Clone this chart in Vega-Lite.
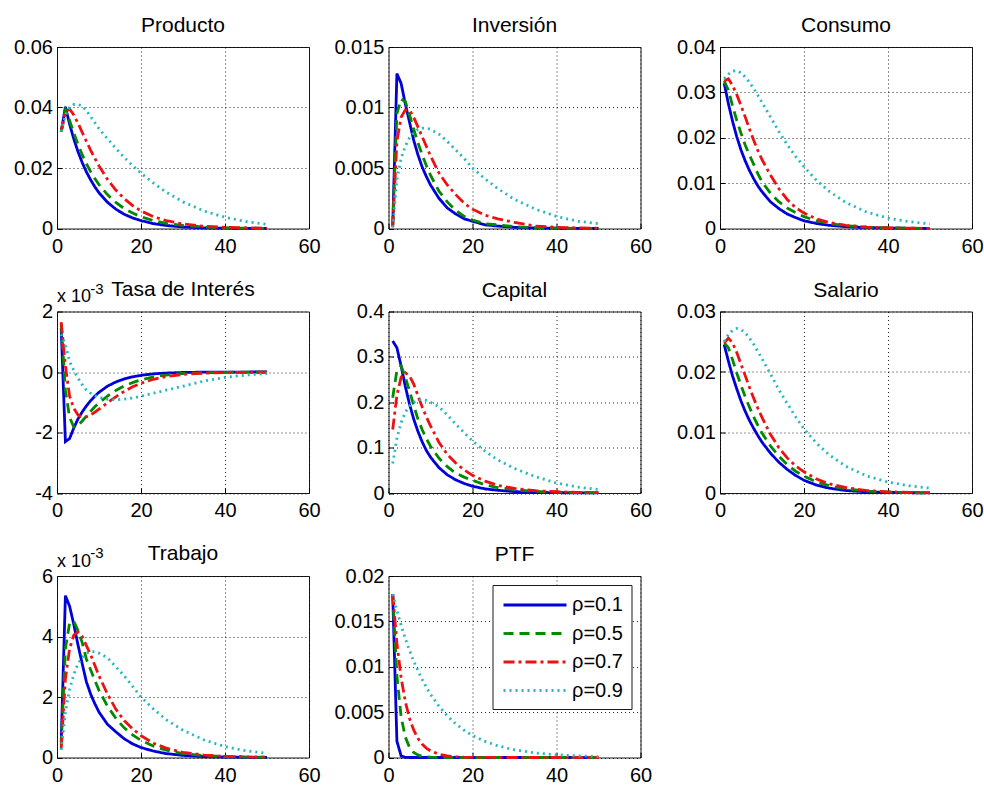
{
  "$schema": "https://vega.github.io/schema/vega-lite/v6.json",
  "background": "white",
  "padding": {"left": 13, "top": 14, "right": 4, "bottom": 0},
  "bounds": "flush",
  "columns": 3,
  "spacing": {"row": 82.5, "column": 79.5},
  "config": {
    "font": "Liberation Sans",
    "view": {"stroke": "#1a1a1a", "strokeWidth": 1},
    "axis": {
      "grid": true, "gridColor": "#000", "gridDash": [1, 3], "gridWidth": 1, "gridOpacity": 0.85,
      "domain": false, "ticks": true, "tickSize": -5, "tickColor": "#000",
      "labelFont": "Liberation Sans", "labelFontSize": 20, "labelColor": "#000",
      "labelFlush": false, "labelOverlap": false
    },
    "axisX": {"labelPadding": 12.5},
    "axisY": {"labelPadding": 9.5},
    "title": {"font": "Liberation Sans", "fontSize": 21, "fontWeight": "normal", "color": "#000", "anchor": "middle", "frame": "group", "baseline": "alphabetic", "offset": 1},
    "line": {"strokeWidth": 2.8, "strokeCap": "butt"}
  },
  "resolve": {
    "scale": {"color": "independent", "strokeDash": "independent"},
    "legend": {"color": "independent", "strokeDash": "independent"}
  },
  "datasets": {
    "producto": [
      {"r":0.1,"t":1,"v":0.032},{"r":0.1,"t":2,"v":0.0402},{"r":0.1,"t":3,"v":0.0345},{"r":0.1,"t":4,"v":0.0296},{"r":0.1,"t":5,"v":0.0254},{"r":0.1,"t":6,"v":0.0218},{"r":0.1,"t":7,"v":0.0187},{"r":0.1,"t":8,"v":0.0161},{"r":0.1,"t":9,"v":0.0138},{"r":0.1,"t":10,"v":0.0118},{"r":0.1,"t":12,"v":0.0087},{"r":0.1,"t":14,"v":0.0064},{"r":0.1,"t":16,"v":0.0047},{"r":0.1,"t":18,"v":0.0035},{"r":0.1,"t":20,"v":0.0026},{"r":0.1,"t":23,"v":0.0016},{"r":0.1,"t":26,"v":0.001},{"r":0.1,"t":30,"v":0.0005},{"r":0.1,"t":35,"v":0.0002},{"r":0.1,"t":40,"v":0.0001},{"r":0.1,"t":45,"v":0.00005},{"r":0.1,"t":50,"v":0.00002},
      {"r":0.5,"t":1,"v":0.032},{"r":0.5,"t":2,"v":0.0392},{"r":0.5,"t":3,"v":0.0357},{"r":0.5,"t":4,"v":0.0316},{"r":0.5,"t":5,"v":0.0278},{"r":0.5,"t":6,"v":0.0244},{"r":0.5,"t":7,"v":0.0214},{"r":0.5,"t":8,"v":0.0188},{"r":0.5,"t":9,"v":0.0165},{"r":0.5,"t":10,"v":0.0145},{"r":0.5,"t":12,"v":0.0112},{"r":0.5,"t":14,"v":0.0086},{"r":0.5,"t":16,"v":0.0066},{"r":0.5,"t":18,"v":0.0051},{"r":0.5,"t":20,"v":0.0039},{"r":0.5,"t":23,"v":0.0026},{"r":0.5,"t":26,"v":0.0017},{"r":0.5,"t":30,"v":0.001},{"r":0.5,"t":35,"v":0.0005},{"r":0.5,"t":40,"v":0.0002},{"r":0.5,"t":45,"v":0.0001},{"r":0.5,"t":50,"v":0.00005},
      {"r":0.7,"t":1,"v":0.032},{"r":0.7,"t":2,"v":0.0385},{"r":0.7,"t":3,"v":0.0395},{"r":0.7,"t":4,"v":0.0375},{"r":0.7,"t":5,"v":0.0348},{"r":0.7,"t":6,"v":0.0318},{"r":0.7,"t":7,"v":0.0288},{"r":0.7,"t":8,"v":0.0259},{"r":0.7,"t":9,"v":0.0232},{"r":0.7,"t":10,"v":0.0207},{"r":0.7,"t":12,"v":0.0163},{"r":0.7,"t":14,"v":0.0127},{"r":0.7,"t":16,"v":0.0099},{"r":0.7,"t":18,"v":0.0076},{"r":0.7,"t":20,"v":0.0058},{"r":0.7,"t":23,"v":0.0039},{"r":0.7,"t":26,"v":0.0026},{"r":0.7,"t":30,"v":0.0015},{"r":0.7,"t":35,"v":0.0007},{"r":0.7,"t":40,"v":0.0004},{"r":0.7,"t":45,"v":0.0002},{"r":0.7,"t":50,"v":0.0001},
      {"r":0.9,"t":1,"v":0.032},{"r":0.9,"t":2,"v":0.0375},{"r":0.9,"t":3,"v":0.04},{"r":0.9,"t":4,"v":0.041},{"r":0.9,"t":5,"v":0.041},{"r":0.9,"t":6,"v":0.0405},{"r":0.9,"t":7,"v":0.039},{"r":0.9,"t":8,"v":0.037},{"r":0.9,"t":9,"v":0.035},{"r":0.9,"t":10,"v":0.033},{"r":0.9,"t":12,"v":0.0297},{"r":0.9,"t":14,"v":0.0265},{"r":0.9,"t":16,"v":0.0235},{"r":0.9,"t":18,"v":0.0208},{"r":0.9,"t":20,"v":0.0183},{"r":0.9,"t":23,"v":0.015},{"r":0.9,"t":26,"v":0.012},{"r":0.9,"t":30,"v":0.0088},{"r":0.9,"t":35,"v":0.0058},{"r":0.9,"t":40,"v":0.0037},{"r":0.9,"t":45,"v":0.0023},{"r":0.9,"t":50,"v":0.0014}
    ],
    "inversion": [
      {"r":0.1,"t":1,"v":0.0002},{"r":0.1,"t":2,"v":0.0128},{"r":0.1,"t":3,"v":0.012},{"r":0.1,"t":4,"v":0.0103},{"r":0.1,"t":5,"v":0.0088},{"r":0.1,"t":6,"v":0.0073},{"r":0.1,"t":7,"v":0.0061},{"r":0.1,"t":8,"v":0.0051},{"r":0.1,"t":9,"v":0.0043},{"r":0.1,"t":10,"v":0.0036},{"r":0.1,"t":12,"v":0.0025},{"r":0.1,"t":14,"v":0.0017},{"r":0.1,"t":16,"v":0.0012},{"r":0.1,"t":18,"v":0.0008},{"r":0.1,"t":20,"v":0.0006},{"r":0.1,"t":23,"v":0.0003},{"r":0.1,"t":26,"v":0.0002},{"r":0.1,"t":30,"v":0.0001},{"r":0.1,"t":35,"v":0.00004},{"r":0.1,"t":40,"v":0.00002},{"r":0.1,"t":45,"v":0.00001},{"r":0.1,"t":50,"v":0},
      {"r":0.5,"t":1,"v":0.0002},{"r":0.5,"t":2,"v":0.0095},{"r":0.5,"t":3,"v":0.0107},{"r":0.5,"t":4,"v":0.0105},{"r":0.5,"t":5,"v":0.0094},{"r":0.5,"t":6,"v":0.0082},{"r":0.5,"t":7,"v":0.0071},{"r":0.5,"t":8,"v":0.0061},{"r":0.5,"t":9,"v":0.0052},{"r":0.5,"t":10,"v":0.0044},{"r":0.5,"t":12,"v":0.0031},{"r":0.5,"t":14,"v":0.0022},{"r":0.5,"t":16,"v":0.0015},{"r":0.5,"t":18,"v":0.001},{"r":0.5,"t":20,"v":0.0007},{"r":0.5,"t":23,"v":0.0004},{"r":0.5,"t":26,"v":0.0003},{"r":0.5,"t":30,"v":0.00015},{"r":0.5,"t":35,"v":0.00007},{"r":0.5,"t":40,"v":0.00003},{"r":0.5,"t":45,"v":0.00001},{"r":0.5,"t":50,"v":0},
      {"r":0.7,"t":1,"v":0.0001},{"r":0.7,"t":2,"v":0.0072},{"r":0.7,"t":3,"v":0.0092},{"r":0.7,"t":4,"v":0.0098},{"r":0.7,"t":5,"v":0.0098},{"r":0.7,"t":6,"v":0.0092},{"r":0.7,"t":7,"v":0.0084},{"r":0.7,"t":8,"v":0.0076},{"r":0.7,"t":9,"v":0.0068},{"r":0.7,"t":10,"v":0.006},{"r":0.7,"t":12,"v":0.0046},{"r":0.7,"t":14,"v":0.0036},{"r":0.7,"t":16,"v":0.0028},{"r":0.7,"t":18,"v":0.0021},{"r":0.7,"t":20,"v":0.0016},{"r":0.7,"t":23,"v":0.0011},{"r":0.7,"t":26,"v":0.0008},{"r":0.7,"t":30,"v":0.0005},{"r":0.7,"t":35,"v":0.0002},{"r":0.7,"t":40,"v":0.0001},{"r":0.7,"t":45,"v":0.00005},{"r":0.7,"t":50,"v":0.00002},
      {"r":0.9,"t":1,"v":0.0001},{"r":0.9,"t":2,"v":0.004},{"r":0.9,"t":3,"v":0.0058},{"r":0.9,"t":4,"v":0.0068},{"r":0.9,"t":5,"v":0.0075},{"r":0.9,"t":6,"v":0.0079},{"r":0.9,"t":7,"v":0.0082},{"r":0.9,"t":8,"v":0.0083},{"r":0.9,"t":9,"v":0.0083},{"r":0.9,"t":10,"v":0.0082},{"r":0.9,"t":12,"v":0.0078},{"r":0.9,"t":14,"v":0.0072},{"r":0.9,"t":16,"v":0.0065},{"r":0.9,"t":18,"v":0.0058},{"r":0.9,"t":20,"v":0.005},{"r":0.9,"t":23,"v":0.0041},{"r":0.9,"t":26,"v":0.0033},{"r":0.9,"t":30,"v":0.0024},{"r":0.9,"t":35,"v":0.0016},{"r":0.9,"t":40,"v":0.001},{"r":0.9,"t":45,"v":0.0006},{"r":0.9,"t":50,"v":0.0004}
    ],
    "consumo": [
      {"r":0.1,"t":1,"v":0.032},{"r":0.1,"t":2,"v":0.0275},{"r":0.1,"t":3,"v":0.0236},{"r":0.1,"t":4,"v":0.0202},{"r":0.1,"t":5,"v":0.0173},{"r":0.1,"t":6,"v":0.0149},{"r":0.1,"t":7,"v":0.0128},{"r":0.1,"t":8,"v":0.011},{"r":0.1,"t":9,"v":0.0094},{"r":0.1,"t":10,"v":0.0081},{"r":0.1,"t":12,"v":0.0059},{"r":0.1,"t":14,"v":0.0044},{"r":0.1,"t":16,"v":0.0032},{"r":0.1,"t":18,"v":0.0024},{"r":0.1,"t":20,"v":0.0017},{"r":0.1,"t":23,"v":0.0011},{"r":0.1,"t":26,"v":0.0007},{"r":0.1,"t":30,"v":0.0004},{"r":0.1,"t":35,"v":0.0002},{"r":0.1,"t":40,"v":0.0001},{"r":0.1,"t":45,"v":0.00004},{"r":0.1,"t":50,"v":0.00002},
      {"r":0.5,"t":1,"v":0.0325},{"r":0.5,"t":2,"v":0.0305},{"r":0.5,"t":3,"v":0.027},{"r":0.5,"t":4,"v":0.0238},{"r":0.5,"t":5,"v":0.021},{"r":0.5,"t":6,"v":0.0184},{"r":0.5,"t":7,"v":0.0162},{"r":0.5,"t":8,"v":0.0142},{"r":0.5,"t":9,"v":0.0121},{"r":0.5,"t":10,"v":0.0103},{"r":0.5,"t":12,"v":0.0078},{"r":0.5,"t":14,"v":0.0059},{"r":0.5,"t":16,"v":0.0045},{"r":0.5,"t":18,"v":0.0035},{"r":0.5,"t":20,"v":0.0026},{"r":0.5,"t":23,"v":0.0017},{"r":0.5,"t":26,"v":0.0011},{"r":0.5,"t":30,"v":0.0006},{"r":0.5,"t":35,"v":0.0003},{"r":0.5,"t":40,"v":0.00015},{"r":0.5,"t":45,"v":0.00007},{"r":0.5,"t":50,"v":0.00003},
      {"r":0.7,"t":1,"v":0.0325},{"r":0.7,"t":2,"v":0.033},{"r":0.7,"t":3,"v":0.0315},{"r":0.7,"t":4,"v":0.0295},{"r":0.7,"t":5,"v":0.0271},{"r":0.7,"t":6,"v":0.0246},{"r":0.7,"t":7,"v":0.022},{"r":0.7,"t":8,"v":0.0195},{"r":0.7,"t":9,"v":0.0172},{"r":0.7,"t":10,"v":0.0152},{"r":0.7,"t":12,"v":0.0118},{"r":0.7,"t":14,"v":0.0088},{"r":0.7,"t":16,"v":0.0064},{"r":0.7,"t":18,"v":0.0046},{"r":0.7,"t":20,"v":0.0034},{"r":0.7,"t":23,"v":0.0021},{"r":0.7,"t":26,"v":0.0013},{"r":0.7,"t":30,"v":0.0007},{"r":0.7,"t":35,"v":0.0003},{"r":0.7,"t":40,"v":0.00015},{"r":0.7,"t":45,"v":0.00007},{"r":0.7,"t":50,"v":0.00003},
      {"r":0.9,"t":1,"v":0.033},{"r":0.9,"t":2,"v":0.034},{"r":0.9,"t":3,"v":0.0347},{"r":0.9,"t":4,"v":0.0348},{"r":0.9,"t":5,"v":0.0343},{"r":0.9,"t":6,"v":0.0334},{"r":0.9,"t":7,"v":0.0322},{"r":0.9,"t":8,"v":0.0309},{"r":0.9,"t":9,"v":0.0294},{"r":0.9,"t":10,"v":0.0278},{"r":0.9,"t":12,"v":0.0246},{"r":0.9,"t":14,"v":0.0214},{"r":0.9,"t":16,"v":0.0185},{"r":0.9,"t":18,"v":0.0159},{"r":0.9,"t":20,"v":0.0136},{"r":0.9,"t":23,"v":0.0106},{"r":0.9,"t":26,"v":0.0082},{"r":0.9,"t":30,"v":0.0057},{"r":0.9,"t":35,"v":0.0036},{"r":0.9,"t":40,"v":0.0023},{"r":0.9,"t":45,"v":0.0015},{"r":0.9,"t":50,"v":0.001}
    ],
    "tasa": [
      {"r":0.1,"t":1,"v":0.00145},{"r":0.1,"t":2,"v":-0.0023},{"r":0.1,"t":3,"v":-0.0022},{"r":0.1,"t":4,"v":-0.00185},{"r":0.1,"t":5,"v":-0.00155},{"r":0.1,"t":6,"v":-0.00132},{"r":0.1,"t":7,"v":-0.00112},{"r":0.1,"t":8,"v":-0.00095},{"r":0.1,"t":9,"v":-0.0008},{"r":0.1,"t":10,"v":-0.00067},{"r":0.1,"t":12,"v":-0.00047},{"r":0.1,"t":14,"v":-0.00033},{"r":0.1,"t":16,"v":-0.00023},{"r":0.1,"t":18,"v":-0.00016},{"r":0.1,"t":20,"v":-0.00011},{"r":0.1,"t":23,"v":-0.00006},{"r":0.1,"t":26,"v":-0.000035},{"r":0.1,"t":30,"v":-0.000015},{"r":0.1,"t":35,"v":-0.000005},{"r":0.1,"t":40,"v":-0.000002},{"r":0.1,"t":45,"v":-0.000001},{"r":0.1,"t":50,"v":0},
      {"r":0.5,"t":1,"v":0.0016},{"r":0.5,"t":2,"v":-0.0006},{"r":0.5,"t":3,"v":-0.0015},{"r":0.5,"t":4,"v":-0.00182},{"r":0.5,"t":5,"v":-0.00178},{"r":0.5,"t":6,"v":-0.00162},{"r":0.5,"t":7,"v":-0.00146},{"r":0.5,"t":8,"v":-0.0013},{"r":0.5,"t":9,"v":-0.00115},{"r":0.5,"t":10,"v":-0.00102},{"r":0.5,"t":12,"v":-0.0008},{"r":0.5,"t":14,"v":-0.00061},{"r":0.5,"t":16,"v":-0.00046},{"r":0.5,"t":18,"v":-0.00035},{"r":0.5,"t":20,"v":-0.00026},{"r":0.5,"t":23,"v":-0.00016},{"r":0.5,"t":26,"v":-0.0001},{"r":0.5,"t":30,"v":-0.00005},{"r":0.5,"t":35,"v":-0.00002},{"r":0.5,"t":40,"v":-0.00001},{"r":0.5,"t":45,"v":-0.000005},{"r":0.5,"t":50,"v":-0.000002},
      {"r":0.7,"t":1,"v":0.00165},{"r":0.7,"t":2,"v":0.0002},{"r":0.7,"t":3,"v":-0.0008},{"r":0.7,"t":4,"v":-0.0012},{"r":0.7,"t":5,"v":-0.00142},{"r":0.7,"t":6,"v":-0.0015},{"r":0.7,"t":7,"v":-0.00148},{"r":0.7,"t":8,"v":-0.00142},{"r":0.7,"t":9,"v":-0.00133},{"r":0.7,"t":10,"v":-0.00123},{"r":0.7,"t":12,"v":-0.00102},{"r":0.7,"t":14,"v":-0.00082},{"r":0.7,"t":16,"v":-0.00064},{"r":0.7,"t":18,"v":-0.00049},{"r":0.7,"t":20,"v":-0.00037},{"r":0.7,"t":23,"v":-0.00024},{"r":0.7,"t":26,"v":-0.00015},{"r":0.7,"t":30,"v":-0.00008},{"r":0.7,"t":35,"v":-0.00004},{"r":0.7,"t":40,"v":-0.00002},{"r":0.7,"t":45,"v":-0.00001},{"r":0.7,"t":50,"v":-0.000005},
      {"r":0.9,"t":1,"v":0.00125},{"r":0.9,"t":2,"v":0.0009},{"r":0.9,"t":3,"v":0.00035},{"r":0.9,"t":4,"v":0.00005},{"r":0.9,"t":5,"v":-0.0002},{"r":0.9,"t":6,"v":-0.00042},{"r":0.9,"t":7,"v":-0.0006},{"r":0.9,"t":8,"v":-0.0007},{"r":0.9,"t":9,"v":-0.00078},{"r":0.9,"t":10,"v":-0.00084},{"r":0.9,"t":12,"v":-0.0009},{"r":0.9,"t":14,"v":-0.00092},{"r":0.9,"t":16,"v":-0.0009},{"r":0.9,"t":18,"v":-0.00086},{"r":0.9,"t":20,"v":-0.0008},{"r":0.9,"t":23,"v":-0.0007},{"r":0.9,"t":26,"v":-0.0006},{"r":0.9,"t":30,"v":-0.00047},{"r":0.9,"t":35,"v":-0.0003},{"r":0.9,"t":40,"v":-0.00018},{"r":0.9,"t":45,"v":-0.0001},{"r":0.9,"t":50,"v":-0.00005}
    ],
    "capital": [
      {"r":0.1,"t":1,"v":0.335},{"r":0.1,"t":2,"v":0.32},{"r":0.1,"t":3,"v":0.28},{"r":0.1,"t":4,"v":0.235},{"r":0.1,"t":5,"v":0.196},{"r":0.1,"t":6,"v":0.163},{"r":0.1,"t":7,"v":0.136},{"r":0.1,"t":8,"v":0.113},{"r":0.1,"t":9,"v":0.094},{"r":0.1,"t":10,"v":0.079},{"r":0.1,"t":12,"v":0.056},{"r":0.1,"t":14,"v":0.04},{"r":0.1,"t":16,"v":0.029},{"r":0.1,"t":18,"v":0.021},{"r":0.1,"t":20,"v":0.015},{"r":0.1,"t":23,"v":0.009},{"r":0.1,"t":26,"v":0.006},{"r":0.1,"t":30,"v":0.003},{"r":0.1,"t":35,"v":0.0015},{"r":0.1,"t":40,"v":0.0007},{"r":0.1,"t":45,"v":0.0003},{"r":0.1,"t":50,"v":0.0002},
      {"r":0.5,"t":1,"v":0.21},{"r":0.5,"t":2,"v":0.27},{"r":0.5,"t":3,"v":0.28},{"r":0.5,"t":4,"v":0.255},{"r":0.5,"t":5,"v":0.225},{"r":0.5,"t":6,"v":0.193},{"r":0.5,"t":7,"v":0.163},{"r":0.5,"t":8,"v":0.14},{"r":0.5,"t":9,"v":0.12},{"r":0.5,"t":10,"v":0.103},{"r":0.5,"t":12,"v":0.077},{"r":0.5,"t":14,"v":0.058},{"r":0.5,"t":16,"v":0.044},{"r":0.5,"t":18,"v":0.035},{"r":0.5,"t":20,"v":0.028},{"r":0.5,"t":23,"v":0.018},{"r":0.5,"t":26,"v":0.012},{"r":0.5,"t":30,"v":0.007},{"r":0.5,"t":35,"v":0.0035},{"r":0.5,"t":40,"v":0.0018},{"r":0.5,"t":45,"v":0.0009},{"r":0.5,"t":50,"v":0.0005},
      {"r":0.7,"t":1,"v":0.14},{"r":0.7,"t":2,"v":0.215},{"r":0.7,"t":3,"v":0.255},{"r":0.7,"t":4,"v":0.265},{"r":0.7,"t":5,"v":0.258},{"r":0.7,"t":6,"v":0.24},{"r":0.7,"t":7,"v":0.215},{"r":0.7,"t":8,"v":0.19},{"r":0.7,"t":9,"v":0.168},{"r":0.7,"t":10,"v":0.148},{"r":0.7,"t":12,"v":0.112},{"r":0.7,"t":14,"v":0.085},{"r":0.7,"t":16,"v":0.066},{"r":0.7,"t":18,"v":0.051},{"r":0.7,"t":20,"v":0.039},{"r":0.7,"t":23,"v":0.026},{"r":0.7,"t":26,"v":0.017},{"r":0.7,"t":30,"v":0.01},{"r":0.7,"t":35,"v":0.005},{"r":0.7,"t":40,"v":0.0028},{"r":0.7,"t":45,"v":0.0015},{"r":0.7,"t":50,"v":0.0008},
      {"r":0.9,"t":1,"v":0.065},{"r":0.9,"t":2,"v":0.12},{"r":0.9,"t":3,"v":0.155},{"r":0.9,"t":4,"v":0.178},{"r":0.9,"t":5,"v":0.192},{"r":0.9,"t":6,"v":0.2},{"r":0.9,"t":7,"v":0.205},{"r":0.9,"t":8,"v":0.206},{"r":0.9,"t":9,"v":0.204},{"r":0.9,"t":10,"v":0.2},{"r":0.9,"t":12,"v":0.19},{"r":0.9,"t":14,"v":0.172},{"r":0.9,"t":16,"v":0.152},{"r":0.9,"t":18,"v":0.133},{"r":0.9,"t":20,"v":0.115},{"r":0.9,"t":23,"v":0.092},{"r":0.9,"t":26,"v":0.073},{"r":0.9,"t":30,"v":0.054},{"r":0.9,"t":35,"v":0.036},{"r":0.9,"t":40,"v":0.022},{"r":0.9,"t":45,"v":0.013},{"r":0.9,"t":50,"v":0.008}
    ],
    "salario": [
      {"r":0.1,"t":1,"v":0.0245},{"r":0.1,"t":2,"v":0.0218},{"r":0.1,"t":3,"v":0.0193},{"r":0.1,"t":4,"v":0.0172},{"r":0.1,"t":5,"v":0.0152},{"r":0.1,"t":6,"v":0.0135},{"r":0.1,"t":7,"v":0.012},{"r":0.1,"t":8,"v":0.0107},{"r":0.1,"t":9,"v":0.0095},{"r":0.1,"t":10,"v":0.0084},{"r":0.1,"t":12,"v":0.0066},{"r":0.1,"t":14,"v":0.0051},{"r":0.1,"t":16,"v":0.0039},{"r":0.1,"t":18,"v":0.0029},{"r":0.1,"t":20,"v":0.0021},{"r":0.1,"t":23,"v":0.0013},{"r":0.1,"t":26,"v":0.0008},{"r":0.1,"t":30,"v":0.0004},{"r":0.1,"t":35,"v":0.0002},{"r":0.1,"t":40,"v":0.0001},{"r":0.1,"t":45,"v":0.00005},{"r":0.1,"t":50,"v":0.00002},
      {"r":0.5,"t":1,"v":0.0248},{"r":0.5,"t":2,"v":0.024},{"r":0.5,"t":3,"v":0.022},{"r":0.5,"t":4,"v":0.0198},{"r":0.5,"t":5,"v":0.0178},{"r":0.5,"t":6,"v":0.0159},{"r":0.5,"t":7,"v":0.0142},{"r":0.5,"t":8,"v":0.0126},{"r":0.5,"t":9,"v":0.0112},{"r":0.5,"t":10,"v":0.0099},{"r":0.5,"t":12,"v":0.0078},{"r":0.5,"t":14,"v":0.0061},{"r":0.5,"t":16,"v":0.0047},{"r":0.5,"t":18,"v":0.0036},{"r":0.5,"t":20,"v":0.0028},{"r":0.5,"t":23,"v":0.0018},{"r":0.5,"t":26,"v":0.0012},{"r":0.5,"t":30,"v":0.0007},{"r":0.5,"t":35,"v":0.0003},{"r":0.5,"t":40,"v":0.00015},{"r":0.5,"t":45,"v":0.00007},{"r":0.5,"t":50,"v":0.00003},
      {"r":0.7,"t":1,"v":0.0248},{"r":0.7,"t":2,"v":0.0256},{"r":0.7,"t":3,"v":0.0248},{"r":0.7,"t":4,"v":0.0232},{"r":0.7,"t":5,"v":0.0213},{"r":0.7,"t":6,"v":0.0194},{"r":0.7,"t":7,"v":0.0175},{"r":0.7,"t":8,"v":0.0157},{"r":0.7,"t":9,"v":0.014},{"r":0.7,"t":10,"v":0.0125},{"r":0.7,"t":12,"v":0.0097},{"r":0.7,"t":14,"v":0.0075},{"r":0.7,"t":16,"v":0.0058},{"r":0.7,"t":18,"v":0.0045},{"r":0.7,"t":20,"v":0.0035},{"r":0.7,"t":23,"v":0.0023},{"r":0.7,"t":26,"v":0.0015},{"r":0.7,"t":30,"v":0.0009},{"r":0.7,"t":35,"v":0.0004},{"r":0.7,"t":40,"v":0.0002},{"r":0.7,"t":45,"v":0.0001},{"r":0.7,"t":50,"v":0.00005},
      {"r":0.9,"t":1,"v":0.025},{"r":0.9,"t":2,"v":0.0262},{"r":0.9,"t":3,"v":0.0269},{"r":0.9,"t":4,"v":0.0272},{"r":0.9,"t":5,"v":0.027},{"r":0.9,"t":6,"v":0.0265},{"r":0.9,"t":7,"v":0.0256},{"r":0.9,"t":8,"v":0.0246},{"r":0.9,"t":9,"v":0.0234},{"r":0.9,"t":10,"v":0.0222},{"r":0.9,"t":12,"v":0.0197},{"r":0.9,"t":14,"v":0.0171},{"r":0.9,"t":16,"v":0.0148},{"r":0.9,"t":18,"v":0.0126},{"r":0.9,"t":20,"v":0.0106},{"r":0.9,"t":23,"v":0.0082},{"r":0.9,"t":26,"v":0.0063},{"r":0.9,"t":30,"v":0.0044},{"r":0.9,"t":35,"v":0.0028},{"r":0.9,"t":40,"v":0.0018},{"r":0.9,"t":45,"v":0.0012},{"r":0.9,"t":50,"v":0.0008}
    ],
    "trabajo": [
      {"r":0.1,"t":1,"v":0.0005},{"r":0.1,"t":2,"v":0.00535},{"r":0.1,"t":3,"v":0.005},{"r":0.1,"t":4,"v":0.0044},{"r":0.1,"t":5,"v":0.00372},{"r":0.1,"t":6,"v":0.0031},{"r":0.1,"t":7,"v":0.0025},{"r":0.1,"t":8,"v":0.0021},{"r":0.1,"t":9,"v":0.00178},{"r":0.1,"t":10,"v":0.0015},{"r":0.1,"t":12,"v":0.0011},{"r":0.1,"t":14,"v":0.00085},{"r":0.1,"t":16,"v":0.00062},{"r":0.1,"t":18,"v":0.00045},{"r":0.1,"t":20,"v":0.00033},{"r":0.1,"t":23,"v":0.00021},{"r":0.1,"t":26,"v":0.00013},{"r":0.1,"t":30,"v":0.00007},{"r":0.1,"t":35,"v":0.00003},{"r":0.1,"t":40,"v":0.000015},{"r":0.1,"t":45,"v":0.000007},{"r":0.1,"t":50,"v":0.000003},
      {"r":0.5,"t":1,"v":0.0004},{"r":0.5,"t":2,"v":0.0036},{"r":0.5,"t":3,"v":0.00445},{"r":0.5,"t":4,"v":0.0045},{"r":0.5,"t":5,"v":0.0042},{"r":0.5,"t":6,"v":0.0038},{"r":0.5,"t":7,"v":0.00325},{"r":0.5,"t":8,"v":0.0029},{"r":0.5,"t":9,"v":0.00255},{"r":0.5,"t":10,"v":0.00222},{"r":0.5,"t":12,"v":0.0017},{"r":0.5,"t":14,"v":0.0013},{"r":0.5,"t":16,"v":0.00098},{"r":0.5,"t":18,"v":0.00075},{"r":0.5,"t":20,"v":0.00057},{"r":0.5,"t":23,"v":0.00037},{"r":0.5,"t":26,"v":0.00024},{"r":0.5,"t":30,"v":0.00013},{"r":0.5,"t":35,"v":0.00006},{"r":0.5,"t":40,"v":0.00003},{"r":0.5,"t":45,"v":0.000015},{"r":0.5,"t":50,"v":0.000007},
      {"r":0.7,"t":1,"v":0.0003},{"r":0.7,"t":2,"v":0.0026},{"r":0.7,"t":3,"v":0.0036},{"r":0.7,"t":4,"v":0.00405},{"r":0.7,"t":5,"v":0.00415},{"r":0.7,"t":6,"v":0.004},{"r":0.7,"t":7,"v":0.0037},{"r":0.7,"t":8,"v":0.0034},{"r":0.7,"t":9,"v":0.00305},{"r":0.7,"t":10,"v":0.0027},{"r":0.7,"t":12,"v":0.0021},{"r":0.7,"t":14,"v":0.0016},{"r":0.7,"t":16,"v":0.00122},{"r":0.7,"t":18,"v":0.00095},{"r":0.7,"t":20,"v":0.00072},{"r":0.7,"t":23,"v":0.00047},{"r":0.7,"t":26,"v":0.00031},{"r":0.7,"t":30,"v":0.00017},{"r":0.7,"t":35,"v":0.00008},{"r":0.7,"t":40,"v":0.00004},{"r":0.7,"t":45,"v":0.00002},{"r":0.7,"t":50,"v":0.00001},
      {"r":0.9,"t":1,"v":0.00025},{"r":0.9,"t":2,"v":0.0015},{"r":0.9,"t":3,"v":0.00225},{"r":0.9,"t":4,"v":0.00275},{"r":0.9,"t":5,"v":0.0031},{"r":0.9,"t":6,"v":0.0033},{"r":0.9,"t":7,"v":0.00345},{"r":0.9,"t":8,"v":0.0035},{"r":0.9,"t":9,"v":0.0035},{"r":0.9,"t":10,"v":0.00345},{"r":0.9,"t":12,"v":0.0033},{"r":0.9,"t":14,"v":0.003},{"r":0.9,"t":16,"v":0.0027},{"r":0.9,"t":18,"v":0.00235},{"r":0.9,"t":20,"v":0.002},{"r":0.9,"t":23,"v":0.0016},{"r":0.9,"t":26,"v":0.00125},{"r":0.9,"t":30,"v":0.0009},{"r":0.9,"t":35,"v":0.00058},{"r":0.9,"t":40,"v":0.00036},{"r":0.9,"t":45,"v":0.00022},{"r":0.9,"t":50,"v":0.00014}
    ],
    "ptf": [
      {"r":0.1,"t":1,"v":0.018},{"r":0.1,"t":2,"v":0.0018},{"r":0.1,"t":3,"v":0.00018},{"r":0.1,"t":4,"v":0.000018},{"r":0.1,"t":5,"v":0.0000018},{"r":0.1,"t":6,"v":0},{"r":0.1,"t":7,"v":0},{"r":0.1,"t":8,"v":0},{"r":0.1,"t":9,"v":0},{"r":0.1,"t":10,"v":0},{"r":0.1,"t":12,"v":0},{"r":0.1,"t":14,"v":0},{"r":0.1,"t":16,"v":0},{"r":0.1,"t":18,"v":0},{"r":0.1,"t":20,"v":0},{"r":0.1,"t":23,"v":0},{"r":0.1,"t":26,"v":0},{"r":0.1,"t":30,"v":0},{"r":0.1,"t":35,"v":0},{"r":0.1,"t":40,"v":0},{"r":0.1,"t":45,"v":0},{"r":0.1,"t":50,"v":0},
      {"r":0.5,"t":1,"v":0.018},{"r":0.5,"t":2,"v":0.009},{"r":0.5,"t":3,"v":0.0045},{"r":0.5,"t":4,"v":0.00225},{"r":0.5,"t":5,"v":0.001125},{"r":0.5,"t":6,"v":0.00056},{"r":0.5,"t":7,"v":0.00028},{"r":0.5,"t":8,"v":0.00014},{"r":0.5,"t":9,"v":0.00007},{"r":0.5,"t":10,"v":0.000035},{"r":0.5,"t":12,"v":0.000009},{"r":0.5,"t":14,"v":0.000002},{"r":0.5,"t":16,"v":0},{"r":0.5,"t":18,"v":0},{"r":0.5,"t":20,"v":0},{"r":0.5,"t":23,"v":0},{"r":0.5,"t":26,"v":0},{"r":0.5,"t":30,"v":0},{"r":0.5,"t":35,"v":0},{"r":0.5,"t":40,"v":0},{"r":0.5,"t":45,"v":0},{"r":0.5,"t":50,"v":0},
      {"r":0.7,"t":1,"v":0.018},{"r":0.7,"t":2,"v":0.0126},{"r":0.7,"t":3,"v":0.00882},{"r":0.7,"t":4,"v":0.00617},{"r":0.7,"t":5,"v":0.00432},{"r":0.7,"t":6,"v":0.00303},{"r":0.7,"t":7,"v":0.00212},{"r":0.7,"t":8,"v":0.00148},{"r":0.7,"t":9,"v":0.00104},{"r":0.7,"t":10,"v":0.00073},{"r":0.7,"t":12,"v":0.00036},{"r":0.7,"t":14,"v":0.00017},{"r":0.7,"t":16,"v":0.00009},{"r":0.7,"t":18,"v":0.00004},{"r":0.7,"t":20,"v":0.00002},{"r":0.7,"t":23,"v":0.000007},{"r":0.7,"t":26,"v":0.000002},{"r":0.7,"t":30,"v":0.000001},{"r":0.7,"t":35,"v":0},{"r":0.7,"t":40,"v":0},{"r":0.7,"t":45,"v":0},{"r":0.7,"t":50,"v":0},
      {"r":0.9,"t":1,"v":0.018},{"r":0.9,"t":2,"v":0.0162},{"r":0.9,"t":3,"v":0.01458},{"r":0.9,"t":4,"v":0.01312},{"r":0.9,"t":5,"v":0.01181},{"r":0.9,"t":6,"v":0.01063},{"r":0.9,"t":7,"v":0.00957},{"r":0.9,"t":8,"v":0.00861},{"r":0.9,"t":9,"v":0.00775},{"r":0.9,"t":10,"v":0.00697},{"r":0.9,"t":12,"v":0.00565},{"r":0.9,"t":14,"v":0.00458},{"r":0.9,"t":16,"v":0.00371},{"r":0.9,"t":18,"v":0.003},{"r":0.9,"t":20,"v":0.00243},{"r":0.9,"t":23,"v":0.00177},{"r":0.9,"t":26,"v":0.00129},{"r":0.9,"t":30,"v":0.00085},{"r":0.9,"t":35,"v":0.0005},{"r":0.9,"t":40,"v":0.0003},{"r":0.9,"t":45,"v":0.00018},{"r":0.9,"t":50,"v":0.0001}
    ]
  },
  "concat": [
    {
      "title": "Producto", "width": 252, "height": 181.5,
      "data": {"name": "producto"},
      "mark": "line",
      "encoding": {
        "x": {"field": "t", "type": "quantitative", "scale": {"domain": [0, 60], "nice": false}, "axis": {"values": [0, 20, 40, 60], "title": null}},
        "y": {"field": "v", "type": "quantitative", "scale": {"domain": [0, 0.06], "nice": false}, "axis": {"values": [0, 0.02, 0.04, 0.06], "format": ".3~g", "title": null}},
        "color": {"field": "r", "type": "nominal", "scale": {"domain": [0.1, 0.5, 0.7, 0.9], "range": ["#0000d8", "#008a00", "#ee1111", "#22b8c0"]}, "legend": null},
        "strokeDash": {"field": "r", "type": "nominal", "scale": {"domain": [0.1, 0.5, 0.7, 0.9], "range": [[1, 0], [10, 6], [11, 4, 3, 4], [2, 4]]}, "legend": null}
      }
    },
    {
      "title": "Inversión", "width": 252, "height": 181.5,
      "data": {"name": "inversion"},
      "mark": "line",
      "encoding": {
        "x": {"field": "t", "type": "quantitative", "scale": {"domain": [0, 60], "nice": false}, "axis": {"values": [0, 20, 40, 60], "title": null}},
        "y": {"field": "v", "type": "quantitative", "scale": {"domain": [0, 0.015], "nice": false}, "axis": {"values": [0, 0.005, 0.01, 0.015], "format": ".3~g", "title": null}},
        "color": {"field": "r", "type": "nominal", "scale": {"domain": [0.1, 0.5, 0.7, 0.9], "range": ["#0000d8", "#008a00", "#ee1111", "#22b8c0"]}, "legend": null},
        "strokeDash": {"field": "r", "type": "nominal", "scale": {"domain": [0.1, 0.5, 0.7, 0.9], "range": [[1, 0], [10, 6], [11, 4, 3, 4], [2, 4]]}, "legend": null}
      }
    },
    {
      "title": "Consumo", "width": 252, "height": 181.5,
      "data": {"name": "consumo"},
      "mark": "line",
      "encoding": {
        "x": {"field": "t", "type": "quantitative", "scale": {"domain": [0, 60], "nice": false}, "axis": {"values": [0, 20, 40, 60], "title": null}},
        "y": {"field": "v", "type": "quantitative", "scale": {"domain": [0, 0.04], "nice": false}, "axis": {"values": [0, 0.01, 0.02, 0.03, 0.04], "format": ".3~g", "title": null}},
        "color": {"field": "r", "type": "nominal", "scale": {"domain": [0.1, 0.5, 0.7, 0.9], "range": ["#0000d8", "#008a00", "#ee1111", "#22b8c0"]}, "legend": null},
        "strokeDash": {"field": "r", "type": "nominal", "scale": {"domain": [0.1, 0.5, 0.7, 0.9], "range": [[1, 0], [10, 6], [11, 4, 3, 4], [2, 4]]}, "legend": null}
      }
    },
    {
      "title": {"text": "Tasa de Interés", "offset": -18.5}, "width": 252, "height": 181.5,
      "layer": [
        {
          "data": {"name": "tasa"},
          "mark": "line",
          "encoding": {
            "x": {"field": "t", "type": "quantitative", "scale": {"domain": [0, 60], "nice": false}, "axis": {"values": [0, 20, 40, 60], "title": null}},
            "y": {"field": "v", "type": "quantitative", "scale": {"domain": [-0.004, 0.002], "nice": false, "zero": false}, "axis": {"values": [-0.004, -0.002, 0, 0.002], "labelExpr": "datum.value < 0 ? '-' + format(-datum.value * 1000, '~g') : format(datum.value * 1000, '~g')", "title": null}},
            "color": {"field": "r", "type": "nominal", "scale": {"domain": [0.1, 0.5, 0.7, 0.9], "range": ["#0000d8", "#008a00", "#ee1111", "#22b8c0"]}, "legend": null},
            "strokeDash": {"field": "r", "type": "nominal", "scale": {"domain": [0.1, 0.5, 0.7, 0.9], "range": [[1, 0], [10, 6], [11, 4, 3, 4], [2, 4]]}, "legend": null}
          }
        },
        {
          "data": {"values": [{"s": "x 10"}]},
          "mark": {"type": "text", "align": "left", "baseline": "alphabetic", "fontSize": 18, "color": "#000"},
          "encoding": {"x": {"datum": 0, "type": "quantitative"}, "y": {"datum": 0.00231, "type": "quantitative"}, "text": {"field": "s"}}
        },
        {
          "data": {"values": [{"s": "-3"}]},
          "mark": {"type": "text", "align": "left", "baseline": "alphabetic", "fontSize": 15, "color": "#000"},
          "encoding": {"x": {"datum": 7.9, "type": "quantitative"}, "y": {"datum": 0.00258, "type": "quantitative"}, "text": {"field": "s"}}
        }
      ]
    },
    {
      "title": "Capital", "width": 252, "height": 181.5,
      "data": {"name": "capital"},
      "mark": "line",
      "encoding": {
        "x": {"field": "t", "type": "quantitative", "scale": {"domain": [0, 60], "nice": false}, "axis": {"values": [0, 20, 40, 60], "title": null}},
        "y": {"field": "v", "type": "quantitative", "scale": {"domain": [0, 0.4], "nice": false}, "axis": {"values": [0, 0.1, 0.2, 0.3, 0.4], "format": ".3~g", "title": null}},
        "color": {"field": "r", "type": "nominal", "scale": {"domain": [0.1, 0.5, 0.7, 0.9], "range": ["#0000d8", "#008a00", "#ee1111", "#22b8c0"]}, "legend": null},
        "strokeDash": {"field": "r", "type": "nominal", "scale": {"domain": [0.1, 0.5, 0.7, 0.9], "range": [[1, 0], [10, 6], [11, 4, 3, 4], [2, 4]]}, "legend": null}
      }
    },
    {
      "title": "Salario", "width": 252, "height": 181.5,
      "data": {"name": "salario"},
      "mark": "line",
      "encoding": {
        "x": {"field": "t", "type": "quantitative", "scale": {"domain": [0, 60], "nice": false}, "axis": {"values": [0, 20, 40, 60], "title": null}},
        "y": {"field": "v", "type": "quantitative", "scale": {"domain": [0, 0.03], "nice": false}, "axis": {"values": [0, 0.01, 0.02, 0.03], "format": ".3~g", "title": null}},
        "color": {"field": "r", "type": "nominal", "scale": {"domain": [0.1, 0.5, 0.7, 0.9], "range": ["#0000d8", "#008a00", "#ee1111", "#22b8c0"]}, "legend": null},
        "strokeDash": {"field": "r", "type": "nominal", "scale": {"domain": [0.1, 0.5, 0.7, 0.9], "range": [[1, 0], [10, 6], [11, 4, 3, 4], [2, 4]]}, "legend": null}
      }
    },
    {
      "title": {"text": "Trabajo", "offset": -18.5}, "width": 252, "height": 181.5,
      "layer": [
        {
          "data": {"name": "trabajo"},
          "mark": "line",
          "encoding": {
            "x": {"field": "t", "type": "quantitative", "scale": {"domain": [0, 60], "nice": false}, "axis": {"values": [0, 20, 40, 60], "title": null}},
            "y": {"field": "v", "type": "quantitative", "scale": {"domain": [0, 0.006], "nice": false}, "axis": {"values": [0, 0.002, 0.004, 0.006], "labelExpr": "format(datum.value * 1000, '~g')", "title": null}},
            "color": {"field": "r", "type": "nominal", "scale": {"domain": [0.1, 0.5, 0.7, 0.9], "range": ["#0000d8", "#008a00", "#ee1111", "#22b8c0"]}, "legend": null},
            "strokeDash": {"field": "r", "type": "nominal", "scale": {"domain": [0.1, 0.5, 0.7, 0.9], "range": [[1, 0], [10, 6], [11, 4, 3, 4], [2, 4]]}, "legend": null}
          }
        },
        {
          "data": {"values": [{"s": "x 10"}]},
          "mark": {"type": "text", "align": "left", "baseline": "alphabetic", "fontSize": 18, "color": "#000"},
          "encoding": {"x": {"datum": 0, "type": "quantitative"}, "y": {"datum": 0.00631, "type": "quantitative"}, "text": {"field": "s"}}
        },
        {
          "data": {"values": [{"s": "-3"}]},
          "mark": {"type": "text", "align": "left", "baseline": "alphabetic", "fontSize": 15, "color": "#000"},
          "encoding": {"x": {"datum": 7.9, "type": "quantitative"}, "y": {"datum": 0.0066, "type": "quantitative"}, "text": {"field": "s"}}
        }
      ]
    },
    {
      "title": "PTF", "width": 252, "height": 181.5,
      "data": {"name": "ptf"},
      "mark": "line",
      "encoding": {
        "x": {"field": "t", "type": "quantitative", "scale": {"domain": [0, 60], "nice": false}, "axis": {"values": [0, 20, 40, 60], "title": null}},
        "y": {"field": "v", "type": "quantitative", "scale": {"domain": [0, 0.02], "nice": false}, "axis": {"values": [0, 0.005, 0.01, 0.015, 0.02], "format": ".3~g", "title": null}},
        "color": {
          "field": "r", "type": "nominal",
          "scale": {"domain": [0.1, 0.5, 0.7, 0.9], "range": ["#0000d8", "#008a00", "#ee1111", "#22b8c0"]},
          "legend": {"orient": "top-right", "offset": 9, "title": null, "labelExpr": "'ρ=' + datum.label", "symbolType": "M-3,0H3", "symbolSize": 441, "symbolStrokeWidth": 2.8, "symbolOffset": 22.5, "labelOffset": 25, "labelFontSize": 20, "labelFont": "Liberation Sans", "labelColor": "#000", "padding": 8, "rowPadding": 6.5, "fillColor": "white", "strokeColor": "#1a1a1a", "cornerRadius": 0}
        },
        "strokeDash": {
          "field": "r", "type": "nominal",
          "scale": {"domain": [0.1, 0.5, 0.7, 0.9], "range": [[1, 0], [10, 6], [11, 4, 3, 4], [2, 4]]},
          "legend": {"orient": "top-right", "offset": 9, "title": null, "labelExpr": "'ρ=' + datum.label", "symbolType": "M-3,0H3", "symbolSize": 441, "symbolStrokeWidth": 2.8, "symbolOffset": 22.5, "labelOffset": 25, "labelFontSize": 20, "labelFont": "Liberation Sans", "labelColor": "#000", "padding": 8, "rowPadding": 6.5, "fillColor": "white", "strokeColor": "#1a1a1a", "cornerRadius": 0}
        }
      }
    }
  ]
}
